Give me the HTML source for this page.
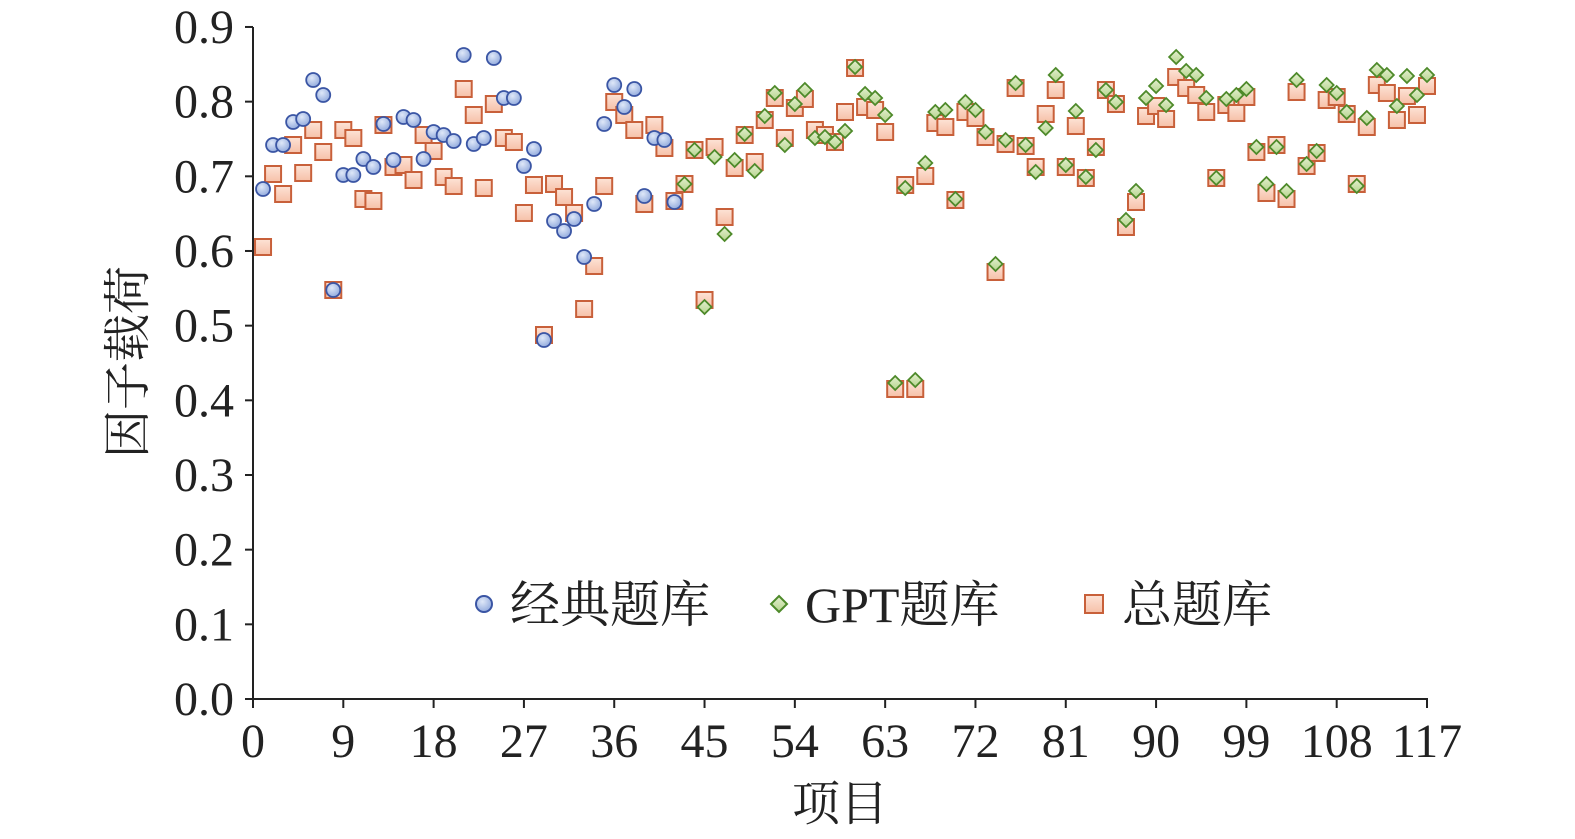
<!DOCTYPE html>
<html><head><meta charset="utf-8"><style>
html,body{margin:0;padding:0;background:#fff;}
svg{display:block;}
text{font-family:"Liberation Serif","Noto Serif CJK SC",serif;fill:#222;}
</style></head><body>
<svg id="s" width="1575" height="839" xmlns="http://www.w3.org/2000/svg">
<defs>
<radialGradient id="gb" cx="40%" cy="35%" r="70%"><stop offset="0" stop-color="#dfe8f8"/><stop offset="1" stop-color="#8fa8dc"/></radialGradient>
<linearGradient id="go" x1="0" y1="0" x2="0" y2="1"><stop offset="0" stop-color="#fde3d6"/><stop offset="1" stop-color="#f6c0a8"/></linearGradient>
<linearGradient id="gg" x1="0" y1="0" x2="0" y2="1"><stop offset="0" stop-color="#e4f0cf"/><stop offset="1" stop-color="#b6d48e"/></linearGradient>
</defs>
<g id="ax"></g><g id="pts"></g>
<text x="0" y="0" font-size="48" text-anchor="middle" transform="translate(144,362) rotate(-90)">因子载荷</text>
<text x="840" y="820" font-size="48" text-anchor="middle">项目</text>
<circle cx="484" cy="604" r="8" fill="url(#gb)" stroke="#3a55a4" stroke-width="2"/>
<text x="510" y="622" font-size="50">经典题库</text>
<path d="M779,596 L787,604 L779,612 L771,604Z" fill="url(#gg)" stroke="#4e8a2a" stroke-width="2"/>
<text x="805" y="622" font-size="50">GPT题库</text>
<rect x="1085" y="595" width="18" height="18" fill="url(#go)" stroke="#c8603a" stroke-width="2"/>
<text x="1122" y="622" font-size="50">总题库</text>
</svg>
<script>
var X0=253,XU=(1427-253)/117,Y0=699,YU=746.7;
var ax='';
ax+='<line x1="253" y1="27" x2="253" y2="700" stroke="#222" stroke-width="2"/>';
ax+='<line x1="252" y1="699" x2="1428" y2="699" stroke="#222" stroke-width="2"/>';
for(var i=0;i<=9;i++){var y=Y0-i*YU/10;ax+='<line x1="245" y1="'+y+'" x2="253" y2="'+y+'" stroke="#222" stroke-width="2"/>';ax+='<text x="234" y="'+(y+16)+'" font-size="48" text-anchor="end">'+(i/10).toFixed(1)+'</text>';}
for(var k=0;k<=117;k+=9){var x=X0+k*XU;ax+='<line x1="'+x+'" y1="699" x2="'+x+'" y2="708" stroke="#222" stroke-width="2"/>';ax+='<text x="'+x+'" y="757" font-size="48" text-anchor="middle">'+k+'</text>';}
document.getElementById('ax').innerHTML=ax;
var blue=[189,145,145,122,119,80,95,290,175,175,159,167,124,160,117,120,159,132,135,141,55,144,138,58,98,98,166,149,340,221,231,219,257,204,124,85,107,89,196,138,140,202];
var oc=[247,174,194,145,173,130,152,290,130,138,199,201,125,167,165,180,135,151,177,186,89,115,188,104,138,142,213,185,335,184,197,213,309,266,186,102,115,130,204,125,148,201];
var gp=[[184,184],[150,150],[307,300],[157,147],[234,217],[160,168],[134,135],[171,162],[116,120],[93,98],[145,138],[104,108],[90,99],[138,130],[137,135],[142,142],[131,112],[67,68],[94,107],[98,110],[115,132],[383,389],[188,185],[380,389],[163,176],[112,123],[110,127],[199,200],[102,112],[110,118],[132,137],[264,272],[140,144],[83,88],[145,146],[172,167],[128,114],[75,90],[165,167],[111,126],[177,178],[150,147],[90,90],[102,104],[220,227],[191,202],[98,116],[86,106],[105,119],[57,77],[71,88],[75,95],[98,112],[178,178],[99,105],[95,113],[89,97],[147,152],[184,193],[147,145],[191,199],[80,92],[164,166],[151,153],[85,100],[93,97],[112,114],[186,184],[118,127],[70,85],[75,93],[106,120],[76,96],[95,115],[75,86]];
var sq='',ci='',di='';
function S(x,y){return '<rect x="'+(x-8)+'" y="'+(y-8)+'" width="16" height="16" fill="url(#go)" stroke="#c8603a" stroke-width="2"/>';}
for(var i=0;i<42;i++){var x=X0+(i+1)*XU;sq+=S(x,oc[i]);ci+='<circle cx="'+x+'" cy="'+blue[i]+'" r="7" fill="url(#gb)" stroke="#3a55a4" stroke-width="1.8"/>';}
for(var j=0;j<gp.length;j++){var x=X0+(43+j)*XU,g=gp[j][0];sq+=S(x,gp[j][1]);di+='<path d="M'+x+','+(g-7)+' L'+(x+7)+','+g+' L'+x+','+(g+7)+' L'+(x-7)+','+g+'Z" fill="url(#gg)" stroke="#4e8a2a" stroke-width="1.8"/>';}
document.getElementById('pts').innerHTML=sq+ci+di;
</script>
</body></html>
